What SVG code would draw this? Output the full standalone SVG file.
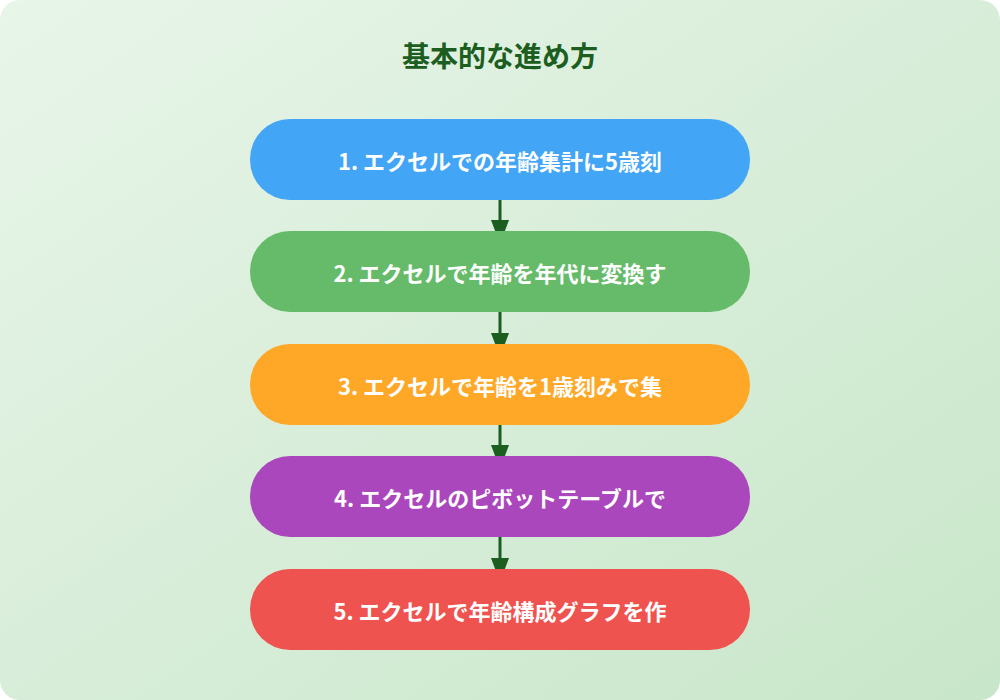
<svg xmlns="http://www.w3.org/2000/svg" width="1000" height="700" viewBox="0 0 1000 700">
<defs>
<linearGradient id="bg" x1="0" y1="0" x2="1" y2="1"><stop offset="0" stop-color="#E8F5E9"/><stop offset="1" stop-color="#C8E6C9"/></linearGradient>
<marker id="ah" markerWidth="8" markerHeight="6" refX="4" refY="3" orient="auto" markerUnits="strokeWidth"><path d="M0,0 L8,3 L0,6 Z" fill="#1B5E20"/></marker>
<style>
.t{font-family:"Noto Sans CJK JP","Noto Sans",sans-serif;font-weight:bold;fill:#fff;font-size:22px;text-anchor:middle;dominant-baseline:central}
.c{stroke:#1B5E20;stroke-width:3;fill:none;marker-end:url(#ah)}
</style>
</defs>
<rect width="1000" height="700" rx="20" fill="url(#bg)"/>
<text x="500" y="55" style="font-family:'Noto Sans CJK JP',sans-serif;font-weight:bold;font-size:28px;fill:#1B5E20;text-anchor:middle;dominant-baseline:central">基本的な進め方</text>
<g id="connectors">
<path class="c" d="M500,200 V232"/>
<path class="c" d="M500,312 V345"/>
<path class="c" d="M500,425 V457"/>
<path class="c" d="M500,537 V570"/>
</g>
<g id="n1"><rect x="250" y="119" width="500" height="81" rx="40" fill="#42A5F5"/><text class="t" x="500" y="160">1. エクセルでの年齢集計に5歳刻</text></g>
<g id="n2"><rect x="250" y="231" width="500" height="81" rx="40" fill="#66BB6A"/><text class="t" x="500" y="272">2. エクセルで年齢を年代に変換す</text></g>
<g id="n3"><rect x="250" y="344" width="500" height="81" rx="40" fill="#FFA726"/><text class="t" x="500" y="385">3. エクセルで年齢を1歳刻みで集</text></g>
<g id="n4"><rect x="250" y="456" width="500" height="81" rx="40" fill="#AB47BC"/><text class="t" x="500" y="497">4. エクセルのピボットテーブルで</text></g>
<g id="n5"><rect x="250" y="569" width="500" height="81" rx="40" fill="#EF5350"/><text class="t" x="500" y="610">5. エクセルで年齢構成グラフを作</text></g>
</svg>
